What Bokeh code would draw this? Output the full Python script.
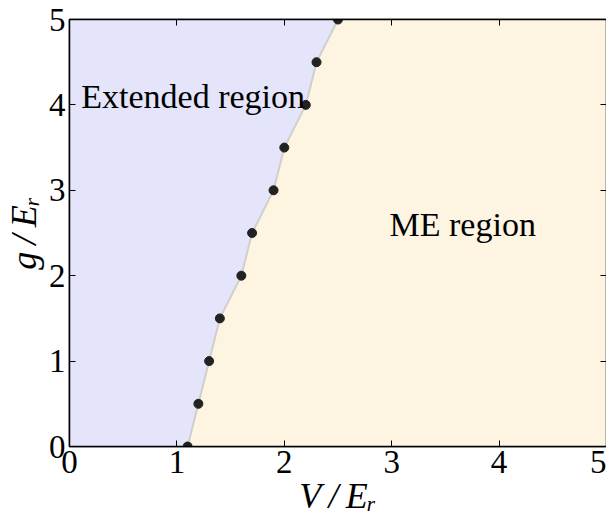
from bokeh.plotting import figure
from bokeh.models import LinearAxis, FixedTicker, Label, Range1d
from bokeh.embed import file_html
from bokeh.resources import INLINE

# boundary between regions: V/E_r values at each g/E_r
g_vals = [0.0, 0.5, 1.0, 1.5, 2.0, 2.5, 3.0, 3.5, 4.0, 4.5, 5.0]
v_vals = [1.1, 1.2, 1.3, 1.4, 1.6, 1.7, 1.9, 2.0, 2.2, 2.3, 2.5]
ticks = [0, 1, 2, 3, 4, 5]
x_min, x_max = 0, 5
y_min, y_max = 0, 5

FONT = "Liberation Serif"
p = figure(frame_width=537, frame_height=427, output_backend="svg", toolbar_location=None,
           x_range=Range1d(x_min, x_max), y_range=Range1d(y_min, y_max),
           min_border_left=0, min_border_right=0, min_border_top=19, min_border_bottom=0)
p.grid.visible = False
p.outline_line_color = "black"
p.outline_line_width = 1.5
p.background_fill_color = "white"

p.harea(y=g_vals, x1=[x_min] * len(g_vals), x2=v_vals, fill_color="#e4e4fa")
p.harea(y=g_vals, x1=v_vals, x2=[x_max] * len(g_vals), fill_color="#fef4e2")
p.line(v_vals, g_vals, line_color="#cfcfcf", line_width=2)
p.scatter(v_vals, g_vals, size=9, color="#222222")

for ax in (p.xaxis[0], p.yaxis[0]):
    ax.ticker = FixedTicker(ticks=ticks)
    ax.major_tick_in = 6
    ax.major_tick_out = 0
    ax.minor_tick_line_color = None
    ax.major_label_text_font = FONT
    ax.major_label_text_font_size = "33px"
    ax.major_label_text_color = "black"
    ax.axis_label_text_font = FONT
    ax.axis_label_text_font_size = "36px"
    ax.axis_label_text_font_style = "italic"
    ax.axis_label_text_color = "black"
    ax.axis_line_color = "black"
    ax.axis_line_width = 1.5

p.xaxis[0].axis_label = "V\u2009/\u2009Eᵣ"
p.yaxis[0].axis_label = "g\u2009/\u2009Eᵣ"
p.xaxis[0].major_label_standoff = 4
p.yaxis[0].major_label_standoff = 4
p.xaxis[0].axis_label_standoff = 0
p.yaxis[0].axis_label_standoff = 2

for loc in ("above", "right"):
    a = LinearAxis(ticker=FixedTicker(ticks=ticks), major_tick_in=6, major_tick_out=0,
                   minor_tick_line_color=None, major_label_text_font_size="1px",
                   major_label_overrides={t: "" for t in ticks},
                   axis_line_color="black", axis_line_width=1.5, major_label_standoff=0)
    p.add_layout(a, loc)

p.add_layout(Label(x=0.11, y=4.1, text="Extended region", text_font=FONT,
                   text_font_size="34px", text_baseline="middle", text_color="black"))
p.add_layout(Label(x=2.98, y=2.6, text="ME region", text_font=FONT,
                   text_font_size="34px", text_baseline="middle", text_color="black"))

open("out.html", "w").write(file_html(p, INLINE))
